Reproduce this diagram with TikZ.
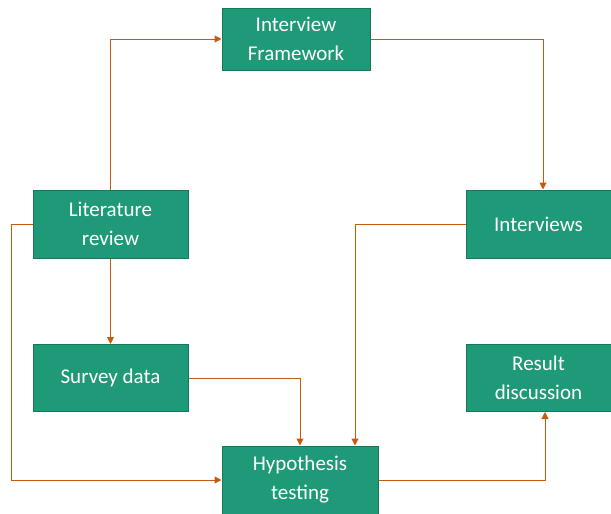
\documentclass[tikz,border=0pt]{standalone}
\usepackage{fontspec}
\setmainfont{Carlito}
\usetikzlibrary{arrows.meta}
\definecolor{boxfill}{RGB}{31,154,120}
\definecolor{boxline}{RGB}{24,118,90}
\definecolor{arr}{RGB}{197,90,17}
\begin{document}
\begin{tikzpicture}[x=1pt,y=-1pt,
  box/.style={draw=boxline,line width=1pt,fill=boxfill,text=white,align=center,
    inner sep=0pt,font=\fontsize{21}{29}\selectfont},
  conn/.style={draw=arr,line width=1pt,-{Triangle[length=7pt,width=7pt]}}]
\useasboundingbox (0,0) rectangle (611,514);
\node[box,minimum width=148pt,minimum height=62pt] (fw) at (296,39) {Interview\\Framework};
\node[box,minimum width=155pt,minimum height=68pt] (lit) at (110.5,224) {Literature\\review};
\node[box,minimum width=145pt,minimum height=68pt] (int) at (538.5,224) {Interviews};
\node[box,minimum width=155pt,minimum height=67pt] (sur) at (110.5,378) {Survey data};
\node[box,minimum width=145pt,minimum height=67pt] (res) at (538.5,378) {Result\\discussion};
\node[box,minimum width=156pt,minimum height=68pt] (hyp) at (300,480) {Hypothesis\\testing};
\draw[conn] (lit.north) |- (fw.west);
\draw[conn] (fw.east) -| ([xshift=4.5pt]int.north);
\draw[conn] (int.west) -| ([xshift=55pt]hyp.north);
\draw[conn] (lit.west) -- ++(-21,0) |- (hyp.west);
\draw[conn] (lit.south) -- (sur.north);
\draw[conn] (sur.east) -| (hyp.north);
\draw[conn] (hyp.east) -| ([xshift=6.5pt]res.south);
\end{tikzpicture}
\end{document}
